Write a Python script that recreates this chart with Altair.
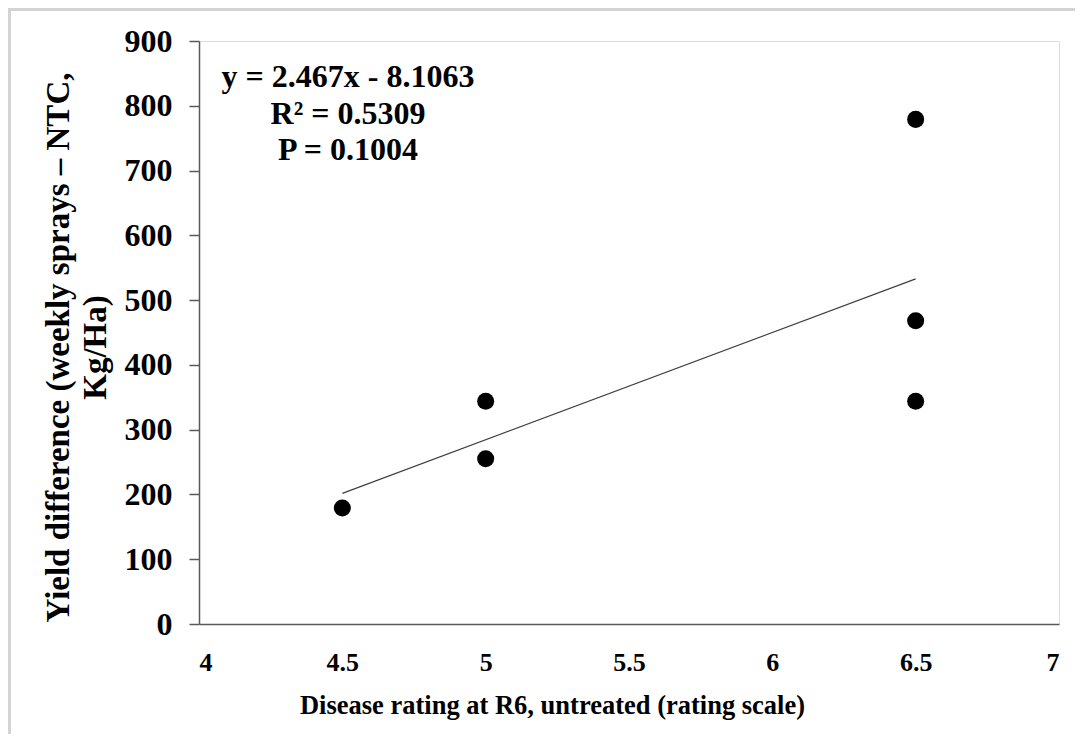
import altair as alt
import pandas as pd

# Data
disease_rating = [4.5, 5.0, 5.0, 6.5, 6.5, 6.5]
yield_diff = [179, 344, 255, 779, 468, 344]

annotation_lines = ["y = 2.467x - 8.1063", "R\u00b2 = 0.5309", "P = 0.1004"]
x_ticks = [4, 4.5, 5, 5.5, 6, 6.5, 7]
y_ticks = [0, 100, 200, 300, 400, 500, 600, 700, 800, 900]
x_title = "Disease rating at R6, untreated (rating scale)"
y_title = ["Yield difference (weekly sprays \u2013 NTC,", "Kg/Ha)"]

df = pd.DataFrame({"x": disease_rating, "y": yield_diff})

FONT = "Liberation Serif"
AXC = "#595959"

xscale = alt.Scale(domain=[4, 7], nice=False, zero=False)
yscale = alt.Scale(domain=[0, 900], nice=False)

xaxis = alt.Axis(
    values=x_ticks, format=".1~f", grid=False, ticks=False,
    labelFont=FONT, labelFontWeight="bold", labelFontSize=26, labelColor="black",
    labelPadding=25, domainColor=AXC, domainWidth=1.5,
    title=x_title, titleFont=FONT, titleFontWeight="bold", titleFontSize=26.5,
    titleColor="black", titleX=353, titleY=89, titleAnchor="start", titleAlign="center",
    titleBaseline="alphabetic",
)
yaxis = alt.Axis(
    values=y_ticks, grid=False, tickSize=10, tickColor=AXC, tickWidth=1.5,
    labelFont=FONT, labelFontWeight="bold", labelFontSize=32, labelColor="black",
    labelPadding=17, domainColor=AXC, domainWidth=1.5,
    title=y_title, titleFont=FONT, titleFontWeight="bold", titleFontSize=33,
    titleColor="black", titleLineHeight=37, titleX=-141, titleY=306,
    titleAngle=270, titleAlign="center", titleBaseline="middle", titleAnchor="start",
)

base = alt.Chart(df)

points = base.mark_point(filled=True, color="black", size=290, opacity=1).encode(
    x=alt.X("x:Q", scale=xscale, axis=xaxis),
    y=alt.Y("y:Q", scale=yscale, axis=yaxis),
)

trend = base.transform_regression("x", "y").mark_line(
    color="#404040", strokeWidth=1.3
).encode(
    x=alt.X("x:Q", scale=xscale),
    y=alt.Y("y:Q", scale=yscale),
)

ann = alt.Chart(pd.DataFrame({"a": [0]})).mark_text(
    font=FONT, fontWeight="bold", fontSize=32, color="black",
    align="center", baseline="alphabetic", lineHeight=36.5,
).encode(
    x=alt.value(149), y=alt.value(46), text=alt.value(annotation_lines)
)

frame = alt.Chart(pd.DataFrame({"a": [0]})).mark_rect(
    fill="white", fillOpacity=0, stroke="#d4d4d4", strokeWidth=3
).encode(
    x=alt.value(-189.5), x2=alt.value(900), y=alt.value(-31.5), y2=alt.value(720)
)

chart = alt.layer(frame, trend, points, ann).properties(
    width=860, height=583,
    autosize=alt.AutoSizeParams(type="none"),
    padding={"left": 191, "top": 33, "right": 16, "bottom": 110},
).configure_view(stroke=AXC, strokeWidth=1.5).configure(background="white")

chart.save("out.html", embed_options={"renderer": "svg", "actions": False})
